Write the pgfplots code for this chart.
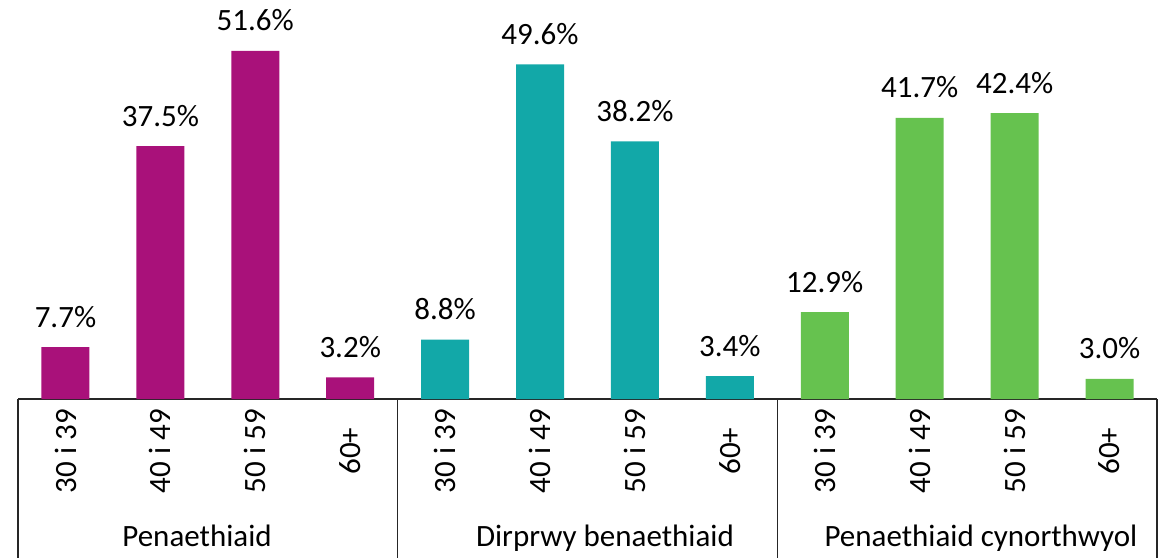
\documentclass[border=0pt]{standalone}
\usepackage{fontspec}
\setmainfont{Carlito}
\usepackage{pgfplots}
\pgfplotsset{compat=1.18}
\definecolor{cMag}{HTML}{A9117A}
\definecolor{cTeal}{HTML}{12A8A8}
\definecolor{cGreen}{HTML}{66C24F}
\newcommand{\fs}{\fontsize{15.5pt}{18pt}\selectfont}
\begin{document}
\begin{tikzpicture}
\begin{axis}[
  scale only axis, width=569.5pt, height=199.5pt,
  xmin=-0.5, xmax=11.5, ymin=0, ymax=59.16,
  ybar, bar width=24pt, bar shift=0pt,
  axis x line*=bottom, axis y line=none,
  x axis line style={-, draw=black!85, line width=0.6pt},
  xtick={0,...,11},
  xticklabels={30 i 39,40 i 49,50 i 59,60+,30 i 39,40 i 49,50 i 59,60+,30 i 39,40 i 49,50 i 59,60+},
  major tick length=0pt,
  xticklabel style={yshift=-26pt, rotate=90, anchor=center, font=\fs},
  nodes near coords={\pgfmathprintnumber[fixed,fixed zerofill,precision=1]{\pgfplotspointmeta}\%},
  nodes near coords style={font=\fs, anchor=base, yshift=10pt, text=black},
  /pgf/number format/assume math mode=true,
  clip=false,
]
\addplot[draw=none, fill=cMag] coordinates {(0,7.7) (1,37.5) (2,51.6) (3,3.2)};
\addplot[draw=none, fill=cTeal] coordinates {(4,8.8) (5,49.6) (6,38.2) (7,3.4)};
\addplot[draw=none, fill=cGreen] coordinates {(8,12.9) (9,41.7) (10,42.4) (11,3.0)};
\draw[black!85, line width=0.6pt] (axis cs:-0.5,0) -- ([yshift=-79.5pt]axis cs:-0.5,0);
\draw[black!85, line width=0.6pt] (axis cs:3.5,0) -- ([yshift=-79.5pt]axis cs:3.5,0);
\draw[black!85, line width=0.6pt] (axis cs:7.5,0) -- ([yshift=-79.5pt]axis cs:7.5,0);
\draw[black!85, line width=0.6pt] (axis cs:11.5,0) -- ([yshift=-79.5pt]axis cs:11.5,0);
\node[font=\fs, anchor=base, yshift=-73.5pt] at (axis cs:1.386,0) {Penaethiaid};
\node[font=\fs, anchor=base, yshift=-73.5pt] at (axis cs:5.684,0) {Dirprwy benaethiaid};
\node[font=\fs, anchor=base, yshift=-73.5pt] at (axis cs:9.645,0) {Penaethiaid cynorthwyol};
\path ([xshift=-9pt,yshift=-79.5pt]rel axis cs:0,0) rectangle ([xshift=3.5pt]rel axis cs:1,1);
\end{axis}
\end{tikzpicture}
\end{document}
